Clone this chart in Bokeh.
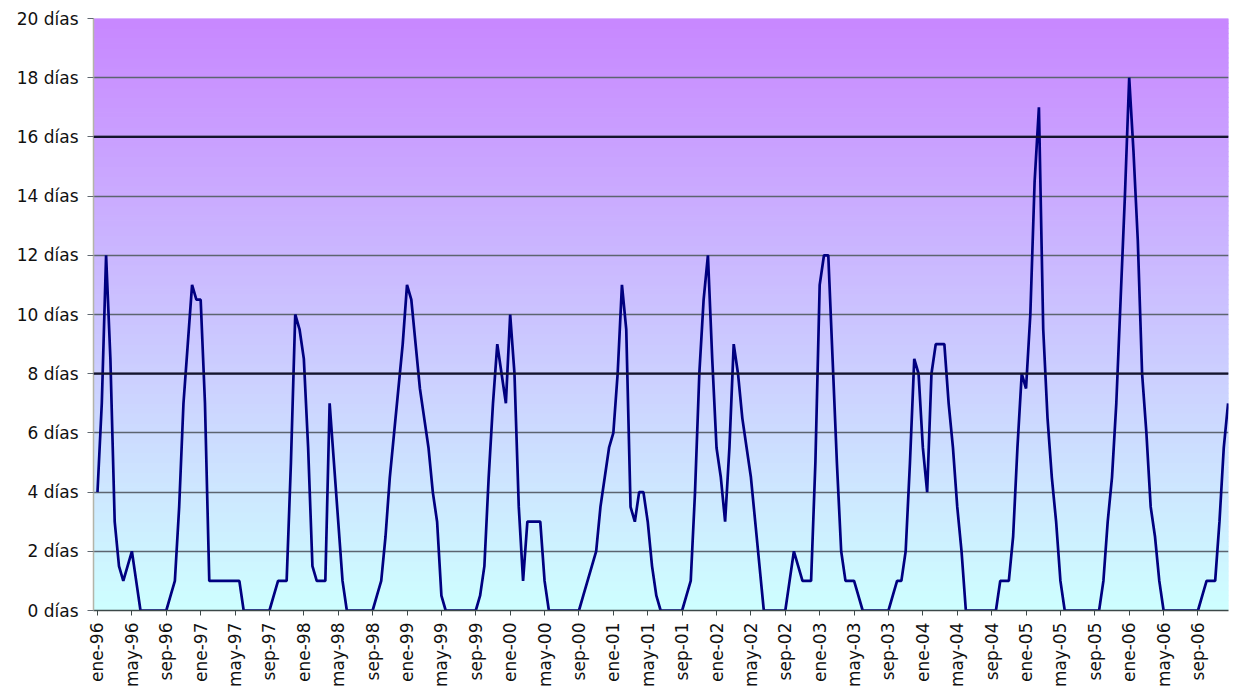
import math
from bokeh.plotting import figure
from bokeh.models import Range1d, FixedTicker, Span
from bokeh.embed import file_html
from bokeh.resources import INLINE

# Series values (días), one row per 4-month tick interval
dias = [
    4, 7, 12, 8.5, 3, 1.5, 1, 1.5,
    2, 1, 0, 0, 0, 0, 0, 0,
    0, 0.5, 1, 3.5, 7, 9, 11, 10.5,
    10.5, 7, 1, 1, 1, 1, 1, 1,
    1, 1, 0, 0, 0, 0, 0, 0,
    0, 0.5, 1, 1, 1, 5, 10, 9.5,
    8.5, 5.5, 1.5, 1, 1, 1, 7, 5,
    3, 1, 0, 0, 0, 0, 0, 0,
    0, 0.5, 1, 2.5, 4.5, 6, 7.5, 9,
    11, 10.5, 9, 7.5, 6.5, 5.5, 4, 3,
    0.5, 0, 0, 0, 0, 0, 0, 0,
    0, 0.5, 1.5, 4.5, 7, 9, 8, 7,
    10, 8, 3.5, 1, 3, 3, 3, 3,
    1, 0, 0, 0, 0, 0, 0, 0,
    0, 0.5, 1, 1.5, 2, 3.5, 4.5, 5.5,
    6, 8, 11, 9.5, 3.5, 3, 4, 4,
    3, 1.5, 0.5, 0, 0, 0, 0, 0,
    0, 0.5, 1, 4, 8, 10.5, 12, 8.5,
    5.5, 4.5, 3, 5.5, 9, 8, 6.5, 5.5,
    4.5, 3, 1.5, 0, 0, 0, 0, 0,
    0, 1, 2, 1.5, 1, 1, 1, 5,
    11, 12, 12, 8.5, 5, 2, 1, 1,
    1, 0.5, 0, 0, 0, 0, 0, 0,
    0, 0.5, 1, 1, 2, 5, 8.5, 8,
    5.5, 4, 8, 9, 9, 9, 7, 5.5,
    3.5, 2, 0, 0, 0, 0, 0, 0,
    0, 0, 1, 1, 1, 2.5, 5.5, 8,
    7.5, 10, 14.5, 17, 9.5, 6.5, 4.5, 3,
    1, 0, 0, 0, 0, 0, 0, 0,
    0, 0, 1, 3, 4.5, 7, 10.5, 14,
    18, 15.5, 12.5, 8, 6, 3.5, 2.5, 1,
    0, 0, 0, 0, 0, 0, 0, 0,
    0, 0.5, 1, 1, 1, 3, 5.5, 7,
]

x_labels = [
    "ene-96", "may-96", "sep-96", "ene-97", "may-97", "sep-97",
    "ene-98", "may-98", "sep-98", "ene-99", "may-99", "sep-99",
    "ene-00", "may-00", "sep-00", "ene-01", "may-01", "sep-01",
    "ene-02", "may-02", "sep-02", "ene-03", "may-03", "sep-03",
    "ene-04", "may-04", "sep-04", "ene-05", "may-05", "sep-05",
    "ene-06", "may-06", "sep-06",
]
points_per_label = 8

y_ticks = [0, 2, 4, 6, 8, 10, 12, 14, 16, 18, 20]
y_labels = ["0 días", "2 días", "4 días", "6 días", "8 días", "10 días",
            "12 días", "14 días", "16 días", "18 días", "20 días"]

x = list(range(len(dias)))
x_ticks = [i * points_per_label for i in range(len(x_labels))]

xr = Range1d(-0.93, len(dias) - 0.9)
yr = Range1d(0, 20)

p = figure(width=1230, height=690, output_backend="svg", toolbar_location=None,
           x_range=xr, y_range=yr,
           min_border_left=93, min_border_right=2, min_border_top=18, min_border_bottom=80)
p.outline_line_color = None
p.background_fill_color = "white"
p.border_fill_color = "white"

# vertical gradient background (cyan at bottom -> violet at top)
n = 120
bottoms = [yr.start + (yr.end - yr.start) * i / n for i in range(n)]
tops = [yr.start + (yr.end - yr.start) * (i + 1) / n for i in range(n)]
cols = []
for i in range(n):
    f = (i + 0.5) / n
    r = int(round(206 - 6 * f))
    g = int(round(255 - 120 * f))
    b = 255
    cols.append("#%02x%02x%02x" % (r, g, b))
p.quad(left=xr.start, right=xr.end, bottom=bottoms, top=tops,
       fill_color=cols, line_color=cols, line_width=1.2, level="image")

# grid
p.xgrid.visible = False
p.ygrid.ticker = FixedTicker(ticks=y_ticks[1:-1])
p.ygrid.grid_line_color = "#5c6470"
p.ygrid.grid_line_width = 1.4
for v in (8, 16):
    p.add_layout(Span(location=v, dimension="width", line_color="#14142e", line_width=2.2))

# series
p.line(x, dias, line_color="#000080", line_width=2.7)

# y axis
p.yaxis.ticker = FixedTicker(ticks=y_ticks)
p.yaxis.major_label_overrides = {t: l for t, l in zip(y_ticks, y_labels)}
p.yaxis.major_label_text_font = "DejaVu Sans"
p.yaxis.major_label_text_font_size = "17px"
p.yaxis.major_label_text_color = "#111111"
p.yaxis.axis_line_color = "#b4b4a8"
p.yaxis.axis_line_width = 1.5
p.yaxis.major_tick_out = 6
p.yaxis.major_tick_in = 0
p.yaxis.major_tick_line_color = "#606870"
p.yaxis.minor_tick_line_color = None
p.yaxis.major_label_standoff = 9

# x axis
p.xaxis.ticker = FixedTicker(ticks=x_ticks)
p.xaxis.major_label_overrides = {t: l for t, l in zip(x_ticks, x_labels)}
p.xaxis.major_label_orientation = math.pi / 2
p.xaxis.major_label_text_font = "DejaVu Sans"
p.xaxis.major_label_text_font_size = "17px"
p.xaxis.major_label_text_color = "#111111"
p.xaxis.axis_line_color = "#3c4848"
p.xaxis.axis_line_width = 1.5
p.xaxis.major_tick_out = 5
p.xaxis.major_tick_in = 0
p.xaxis.major_tick_line_color = "#3c4848"
p.xaxis.minor_tick_line_color = None
p.xaxis.major_label_standoff = 7

open("out.html", "w").write(file_html(p, INLINE))
